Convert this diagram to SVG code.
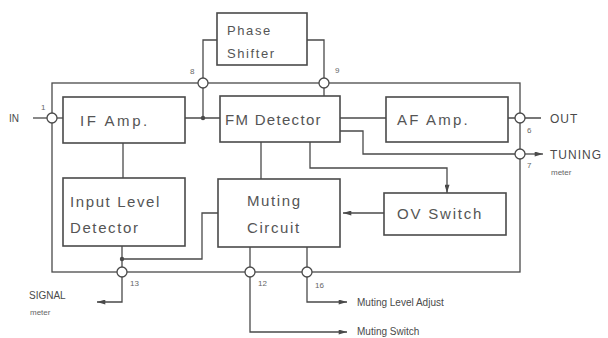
<svg xmlns="http://www.w3.org/2000/svg" width="608" height="338" viewBox="0 0 608 338">
<style>
.blk{fill:#fff;stroke:#4a4a4a;stroke-width:1.6}
.ln{fill:none;stroke:#4a4a4a;stroke-width:1.3}
.pin{fill:#fff;stroke:#4a4a4a;stroke-width:1.3}
.t{font-family:"Liberation Sans",Arial,sans-serif;font-size:15px;fill:#555;letter-spacing:1.6px}
.s{font-family:"Liberation Sans",Arial,sans-serif;font-size:11px;fill:#4a4a4a}
.n{font-family:"Liberation Sans",Arial,sans-serif;font-size:8px;fill:#666}
.m{font-family:"Liberation Sans",Arial,sans-serif;font-size:8px;fill:#666}
</style>
<defs>
<marker id="ah" viewBox="0 0 10 6" refX="10" refY="3" markerWidth="10" markerHeight="5" markerUnits="userSpaceOnUse" orient="auto">
<path d="M0,0 L10,3 L0,6 z" fill="#4a4a4a"/>
</marker>
</defs>
<rect width="608" height="338" fill="#fff"/>

<g id="connectors">
<rect class="ln" x="52" y="83" width="468" height="189"/>
<line class="ln" x1="33" y1="118" x2="63" y2="118"/>
<line class="ln" x1="185" y1="118" x2="220" y2="118"/>
<circle cx="203" cy="118" r="2.2" fill="#4a4a4a"/>
<polyline class="ln" points="203,118 203,40 217,40"/>
<polyline class="ln" points="307,40 324,40 324,96"/>
<line class="ln" x1="340" y1="118" x2="386" y2="118"/>
<line class="ln" x1="508" y1="118" x2="541" y2="118"/>
<polyline class="ln" points="340,131 363,131 363,154 520,154"/>
<line class="ln" x1="520" y1="154" x2="543" y2="154" marker-end="url(#ah)"/>
<line class="ln" x1="261" y1="142" x2="261" y2="179"/>
<polyline class="ln" points="310,142 310,168 447,168 447,193" marker-end="url(#ah)"/>
<line class="ln" x1="384" y1="213" x2="343" y2="213" marker-end="url(#ah)"/>
<line class="ln" x1="123" y1="143" x2="123" y2="178"/>
<polyline class="ln" points="218,213 202,213 202,259 122,259"/>
<circle cx="122" cy="259" r="2.2" fill="#4a4a4a"/>
<polyline class="ln" points="122,246 122,302 97,302" marker-end="url(#ah)"/>
<polyline class="ln" points="250,247 250,332 347,332" marker-end="url(#ah)"/>
<polyline class="ln" points="307,247 307,302 347,302" marker-end="url(#ah)"/>
</g>

<g id="pins">
<circle class="pin" cx="52" cy="118" r="5"/>
<circle class="pin" cx="203" cy="83" r="5"/>
<circle class="pin" cx="324" cy="83" r="5"/>
<circle class="pin" cx="520" cy="118" r="5"/>
<circle class="pin" cx="520" cy="154" r="5"/>
<circle class="pin" cx="122" cy="272" r="5"/>
<circle class="pin" cx="250" cy="272" r="5"/>
<circle class="pin" cx="307" cy="272" r="5"/>
<text class="n" x="41" y="110">1</text>
<text class="n" x="190" y="74">8</text>
<text class="n" x="335" y="73">9</text>
<text class="n" x="527" y="133">6</text>
<text class="n" x="527" y="168">7</text>
<text class="n" x="130" y="286">13</text>
<text class="n" x="258" y="286">12</text>
<text class="n" x="315" y="288">16</text>
</g>

<g id="phase_shifter">
<rect class="blk" x="217" y="13" width="90" height="52"/>
<text class="t" x="227" y="35" style="font-size:13px">Phase</text>
<text class="t" x="227" y="58" style="font-size:13px">Shifter</text>
</g>

<g id="if_amp">
<rect class="blk" x="63" y="97" width="122" height="46"/>
<text class="t" x="80" y="126" style="letter-spacing:2.6px">IF  Amp.</text>
</g>

<g id="fm_detector">
<rect class="blk" x="220" y="96" width="120" height="46"/>
<text class="t" x="225" y="125" style="letter-spacing:1.3px">FM Detector</text>
</g>

<g id="af_amp">
<rect class="blk" x="386" y="97" width="122" height="45"/>
<text class="t" x="397" y="125" style="letter-spacing:2.2px">AF   Amp.</text>
</g>

<g id="input_level_detector">
<rect class="blk" x="63" y="178" width="122" height="68"/>
<text class="t" x="70" y="207">Input Level</text>
<text class="t" x="70" y="233">Detector</text>
</g>

<g id="muting_circuit">
<rect class="blk" x="218" y="179" width="122" height="68"/>
<text class="t" x="247" y="206">Muting</text>
<text class="t" x="247" y="233">Circuit</text>
</g>

<g id="ov_switch">
<rect class="blk" x="384" y="193" width="122" height="42"/>
<text class="t" x="397" y="219" style="letter-spacing:1.8px">OV  Switch</text>
</g>

<g id="labels">
<text class="s" x="9" y="122" style="font-size:10px">IN</text>
<text class="s" x="550" y="123" style="font-size:12px;letter-spacing:1px">OUT</text>
<text class="s" x="550" y="159" style="font-size:12px;letter-spacing:1px">TUNING</text>
<text class="m" x="551" y="175">meter</text>
<text class="s" x="29" y="299" style="font-size:10px">SIGNAL</text>
<text class="m" x="30" y="315">meter</text>
<text class="s" x="357" y="306" style="font-size:10px">Muting Level Adjust</text>
<text class="s" x="357" y="335" style="font-size:10px">Muting Switch</text>
</g>
</svg>
